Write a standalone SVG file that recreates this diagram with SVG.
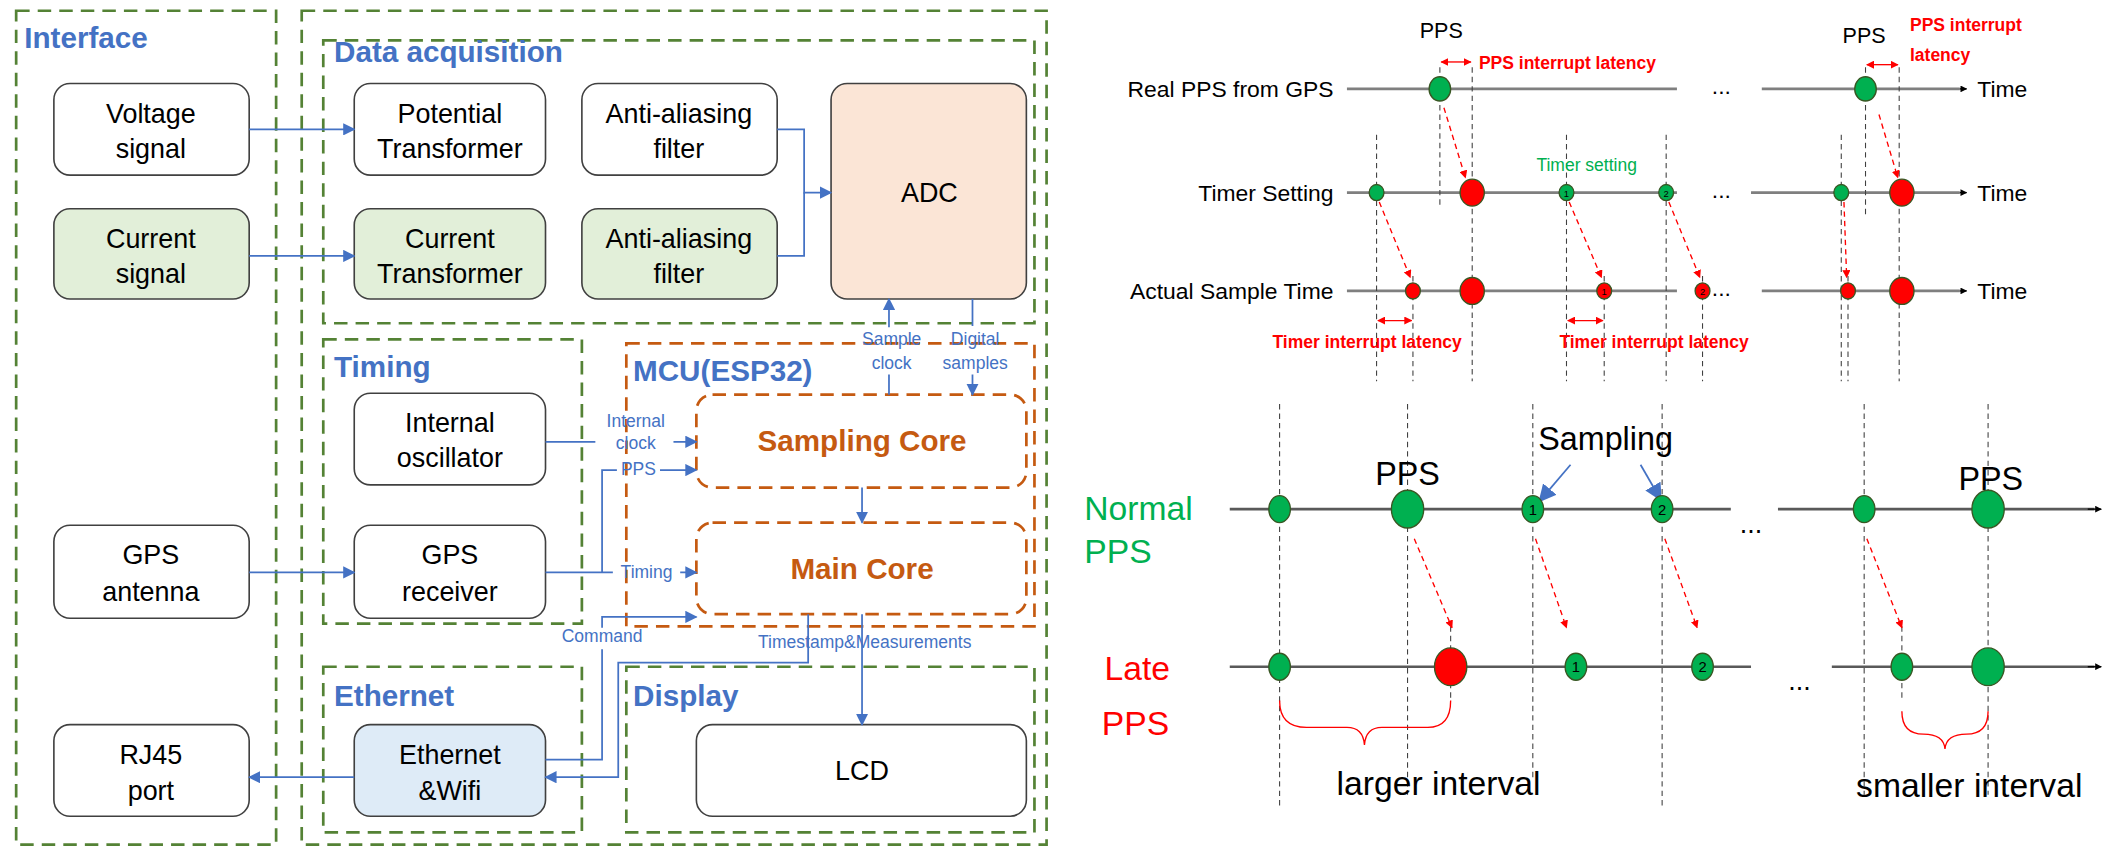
<svg xmlns="http://www.w3.org/2000/svg" width="2112" height="856" viewBox="0 0 2112 856">
<defs>
<style>
.grp{fill:none;stroke:#548235;stroke-width:2;stroke-dasharray:10,6}
.mcu{fill:none;stroke:#c55a11;stroke-width:2;stroke-dasharray:10,6}
.nd{fill:#fff;stroke:#404040;stroke-width:1.2}
.t{font-family:"Liberation Sans",Arial,sans-serif;font-size:20px;fill:#000;text-anchor:middle}
.ttl{font-family:"Liberation Sans",Arial,sans-serif;font-size:22px;font-weight:bold;fill:#4472c4}
.core{font-family:"Liberation Sans",Arial,sans-serif;font-size:22px;font-weight:bold;fill:#c55a11;text-anchor:middle}
.lb{font-family:"Liberation Sans",Arial,sans-serif;font-size:13px;fill:#4472c4;text-anchor:middle}
.c{fill:none;stroke:#4472c4;stroke-width:1.3}
.r{font-family:"Liberation Sans",Arial,sans-serif;font-size:17px;fill:#000}
.red{font-family:"Liberation Sans",Arial,sans-serif;font-size:13px;font-weight:bold;fill:#ff0000}
.ax{stroke:#7f7f7f;stroke-width:2;fill:none}
.ax2{stroke:#595959;stroke-width:2;fill:none}
.vd{stroke:#404040;stroke-width:0.8;stroke-dasharray:4,3;fill:none}
.ra{stroke:#ff0000;stroke-width:1;stroke-dasharray:4,3;fill:none}
.g{fill:#00b050;stroke:#385723;stroke-width:1}
.rd{fill:#ff0000;stroke:#385723;stroke-width:1}
.n{font-family:"Liberation Sans",Arial,sans-serif;font-size:9px;text-anchor:middle;fill:#000}
</style>
<marker id="ab" viewBox="0 0 10 10" refX="9" refY="5" markerWidth="7" markerHeight="7" orient="auto-start-reverse"><path d="M0,0L10,5L0,10z" fill="#4472c4"/></marker>
<marker id="ab2" viewBox="0 0 10 10" refX="9" refY="5" markerWidth="10" markerHeight="10" orient="auto"><path d="M0,0L10,5L0,10z" fill="#4472c4"/></marker>
<marker id="ar" viewBox="0 0 10 10" refX="9" refY="5" markerWidth="6" markerHeight="6" orient="auto-start-reverse"><path d="M0,0L10,5L0,10z" fill="#ff0000"/></marker>
<marker id="ak" viewBox="0 0 10 10" refX="9" refY="5" markerWidth="5" markerHeight="5" orient="auto"><path d="M0,0L10,5L0,10z" fill="#000"/></marker>
</defs>
<g transform="scale(1.34694)">
<g id="groups">
<rect class="grp" x="12" y="8" width="193" height="619"/>
<text class="ttl" x="18" y="36">Interface</text>
<rect class="grp" x="224" y="8" width="553" height="619"/>
<rect class="grp" x="240" y="30" width="528" height="210"/>
<text class="ttl" x="248" y="46">Data acquisition</text>
<rect class="grp" x="240" y="252" width="192" height="211"/>
<text class="ttl" x="248" y="280">Timing</text>
<rect class="mcu" x="465" y="255" width="303" height="210"/>
<text class="ttl" x="470" y="283">MCU(ESP32)</text>
<rect class="grp" x="240" y="495" width="192" height="123"/>
<text class="ttl" x="248" y="524">Ethernet</text>
<rect class="grp" x="465" y="495" width="303" height="123"/>
<text class="ttl" x="470" y="524">Display</text>
</g>
<g id="voltage"><rect class="nd" x="40" y="62" width="145" height="68" rx="12"/><text class="t" x="112" y="91">Voltage</text><text class="t" x="112" y="117">signal</text></g>
<g id="current"><rect class="nd" x="40" y="155" width="145" height="67" rx="12" style="fill:#e2efd9"/><text class="t" x="112" y="184">Current</text><text class="t" x="112" y="210">signal</text></g>
<g id="pt"><rect class="nd" x="263" y="62" width="142" height="68" rx="12"/><text class="t" x="334" y="91">Potential</text><text class="t" x="334" y="117">Transformer</text></g>
<g id="aaf1"><rect class="nd" x="432" y="62" width="145" height="68" rx="12"/><text class="t" x="504" y="91">Anti-aliasing</text><text class="t" x="504" y="117">filter</text></g>
<g id="ct"><rect class="nd" x="263" y="155" width="142" height="67" rx="12" style="fill:#e2efd9"/><text class="t" x="334" y="184">Current</text><text class="t" x="334" y="210">Transformer</text></g>
<g id="aaf2"><rect class="nd" x="432" y="155" width="145" height="67" rx="12" style="fill:#e2efd9"/><text class="t" x="504" y="184">Anti-aliasing</text><text class="t" x="504" y="210">filter</text></g>
<g id="adc"><rect class="nd" x="617" y="62" width="145" height="160" rx="12" style="fill:#fbe5d6"/><text class="t" x="690" y="150">ADC</text></g>
<g id="osc"><rect class="nd" x="263" y="292" width="142" height="68" rx="12"/><text class="t" x="334" y="321">Internal</text><text class="t" x="334" y="347">oscillator</text></g>
<g id="gpsr"><rect class="nd" x="263" y="390" width="142" height="69" rx="12"/><text class="t" x="334" y="419">GPS</text><text class="t" x="334" y="446">receiver</text></g>
<g id="gpsa"><rect class="nd" x="40" y="390" width="145" height="69" rx="12"/><text class="t" x="112" y="419">GPS</text><text class="t" x="112" y="446">antenna</text></g>
<g id="rj45"><rect class="nd" x="40" y="538" width="145" height="68" rx="12"/><text class="t" x="112" y="567">RJ45</text><text class="t" x="112" y="594">port</text></g>
<g id="eth"><rect class="nd" x="263" y="538" width="142" height="68" rx="12" style="fill:#deebf7"/><text class="t" x="334" y="567">Ethernet</text><text class="t" x="334" y="594">&amp;Wifi</text></g>
<g id="lcd"><rect class="nd" x="517" y="538" width="245" height="68" rx="12"/><text class="t" x="640" y="579">LCD</text></g>
<g id="sampcore"><rect class="mcu" x="517" y="293" width="245" height="69" rx="12"/><text class="core" x="640" y="335">Sampling Core</text></g>
<g id="maincore"><rect class="mcu" x="517" y="388" width="245" height="68" rx="12"/><text class="core" x="640" y="430">Main Core</text></g>
<g id="connectors">
<path class="c" d="M185,96H263" marker-end="url(#ab)"/>
<path class="c" d="M185,190H263" marker-end="url(#ab)"/>
<path class="c" d="M577,96H597V143H617" marker-end="url(#ab)"/>
<path class="c" d="M577,190H597V143"/>
<path class="c" d="M660,243V222" marker-end="url(#ab)"/>
<path class="c" d="M660,293V278"/>
<path class="c" d="M722,222V242M722,278V293" marker-end="url(#ab)"/>
<text class="lb" x="662" y="256">Sample</text><text class="lb" x="662" y="274">clock</text>
<text class="lb" x="724" y="256">Digital</text><text class="lb" x="724" y="274">samples</text>
<path class="c" d="M405,328H442M500,328H517" marker-end="url(#ab)"/>
<text class="lb" x="472" y="317">Internal</text><text class="lb" x="472" y="333">clock</text>
<path class="c" d="M447,425V349H458M490,349H517" marker-end="url(#ab)"/>
<text class="lb" x="474" y="353">PPS</text>
<path class="c" d="M405,425H455M505,425H517" marker-end="url(#ab)"/>
<text class="lb" x="480" y="429">Timing</text>
<path class="c" d="M185,425H263" marker-end="url(#ab)"/>
<path class="c" d="M640,362V388" marker-end="url(#ab)"/>
<path class="c" d="M405,564H447V482M447,466V458H517" marker-end="url(#ab)"/>
<text class="lb" x="447" y="477">Command</text>
<path class="c" d="M600,456V492H459V577H405" marker-end="url(#ab)"/>
<path class="c" d="M640,456V538" marker-end="url(#ab)"/>
<text class="lb" x="642" y="481">Timestamp&amp;Measurements</text>
<path class="c" d="M263,577H185" marker-end="url(#ab)"/>
</g>
<g id="timeline-top">
<text class="r" x="990" y="72" text-anchor="end">Real PPS from GPS</text>
<text class="r" x="990" y="149" text-anchor="end">Timer Setting</text>
<text class="r" x="990" y="222" text-anchor="end">Actual Sample Time</text>
<path class="ax" d="M1000,66H1245M1308,66H1455"/><path d="M1455,66H1460" stroke="#000" marker-end="url(#ak)"/>
<path class="ax" d="M1000,143H1245M1300,143H1455"/><path d="M1455,143H1460" stroke="#000" marker-end="url(#ak)"/>
<path class="ax" d="M1000,216H1245M1308,216H1455"/><path d="M1455,216H1460" stroke="#000" marker-end="url(#ak)"/>
<text class="r" x="1278" y="70" text-anchor="middle">...</text>
<text class="r" x="1278" y="147" text-anchor="middle">...</text>
<text class="r" x="1278" y="220" text-anchor="middle">...</text>
<text class="r" x="1468" y="72">Time</text><text class="r" x="1468" y="149">Time</text><text class="r" x="1468" y="222">Time</text>
<path class="vd" d="M1069,50V152M1093,50V283M1385,50V160M1410,50V283M1022,100V283M1163,100V283M1237,100V283M1367,100V283M1049,205V283M1191,205V283M1264,205V283M1372,205V283"/>
<text class="r" x="1070" y="28" text-anchor="middle" style="font-size:16px">PPS</text>
<text class="r" x="1384" y="32" text-anchor="middle" style="font-size:16px">PPS</text>
<path d="M1070,46H1092" stroke="#f00" marker-start="url(#ar)" marker-end="url(#ar)"/>
<path d="M1386,48H1409" stroke="#f00" marker-start="url(#ar)" marker-end="url(#ar)"/>
<path d="M1023,238H1048" stroke="#f00" marker-start="url(#ar)" marker-end="url(#ar)"/>
<path d="M1164,238H1190" stroke="#f00" marker-start="url(#ar)" marker-end="url(#ar)"/>
<text class="red" x="1098" y="51">PPS interrupt latency</text>
<text class="red" x="1418" y="23">PPS interrupt</text><text class="red" x="1418" y="45">latency</text>
<text class="red" x="1015" y="258" text-anchor="middle">Timer interrupt latency</text>
<text class="red" x="1228" y="258" text-anchor="middle">Timer interrupt latency</text>
<text x="1178" y="127" text-anchor="middle" style="font-family:'Liberation Sans',Arial,sans-serif;font-size:13px;fill:#00b050">Timer setting</text>
<path class="ra" d="M1072,80L1088,132" marker-end="url(#ar)"/>
<path class="ra" d="M1395,85L1409,132" marker-end="url(#ar)"/>
<path class="ra" d="M1024,150L1047,206" marker-end="url(#ar)"/>
<path class="ra" d="M1165,150L1189,206" marker-end="url(#ar)"/>
<path class="ra" d="M1239,150L1262,206" marker-end="url(#ar)"/>
<path class="ra" d="M1369,150L1371,206" marker-end="url(#ar)"/>
<ellipse class="g" cx="1069" cy="66" rx="8" ry="9"/><ellipse class="g" cx="1385" cy="66" rx="8" ry="9"/>
<ellipse class="g" cx="1022" cy="143" rx="5.5" ry="6"/><ellipse class="rd" cx="1093" cy="143" rx="9" ry="10"/>
<ellipse class="g" cx="1163" cy="143" rx="5.5" ry="6"/><text class="n" x="1163" y="146" style="font-size:7px">1</text>
<ellipse class="g" cx="1237" cy="143" rx="5.5" ry="6"/><text class="n" x="1237" y="146" style="font-size:7px">2</text>
<ellipse class="g" cx="1367" cy="143" rx="5.5" ry="6"/><ellipse class="rd" cx="1412" cy="143" rx="9" ry="10"/>
<ellipse class="rd" cx="1049" cy="216" rx="5.5" ry="6"/><ellipse class="rd" cx="1093" cy="216" rx="9" ry="10"/>
<ellipse class="rd" cx="1191" cy="216" rx="5.5" ry="6"/><text class="n" x="1191" y="219" style="font-size:7px">1</text>
<ellipse class="rd" cx="1264" cy="216" rx="5.5" ry="6"/><text class="n" x="1264" y="219" style="font-size:7px">2</text>
<ellipse class="rd" cx="1372" cy="216" rx="5.5" ry="6"/><ellipse class="rd" cx="1412" cy="216" rx="9" ry="10"/>
</g>
<g id="timeline-bottom">
<text x="805" y="386" style="font-family:'Liberation Sans',Arial,sans-serif;font-size:25px;fill:#00b050">Normal</text>
<text x="805" y="418" style="font-family:'Liberation Sans',Arial,sans-serif;font-size:25px;fill:#00b050">PPS</text>
<text x="820" y="505" style="font-family:'Liberation Sans',Arial,sans-serif;font-size:25px;fill:#ff0000">Late</text>
<text x="818" y="546" style="font-family:'Liberation Sans',Arial,sans-serif;font-size:25px;fill:#ff0000">PPS</text>
<path class="vd" d="M950,300V600M1045,300V590M1138,300V580M1234,300V600M1384,300V590M1476,300V590M1077,465V520M1412,465V520"/>
<path class="ax2" d="M913,378H1285M1320,378H1555"/><path d="M1550,378H1560" stroke="#000" marker-end="url(#ak)"/>
<path class="ax2" d="M913,495H1300M1360,495H1555"/><path d="M1550,495H1560" stroke="#000" marker-end="url(#ak)"/>
<text class="r" x="1300" y="396" text-anchor="middle" style="font-size:20px">...</text>
<text class="r" x="1336" y="512" text-anchor="middle" style="font-size:20px">...</text>
<text x="1045" y="360" text-anchor="middle" style="font-family:'Liberation Sans',Arial,sans-serif;font-size:24px">PPS</text>
<text x="1478" y="364" text-anchor="middle" style="font-family:'Liberation Sans',Arial,sans-serif;font-size:24px">PPS</text>
<text x="1192" y="334" text-anchor="middle" style="font-family:'Liberation Sans',Arial,sans-serif;font-size:24px">Sampling</text>
<path class="c" d="M1166,345L1143,372" marker-end="url(#ab2)"/>
<path class="c" d="M1218,345L1233,371" marker-end="url(#ab2)"/>
<path class="ra" d="M1050,400L1078,466" marker-end="url(#ar)"/>
<path class="ra" d="M1140,400L1163,466" marker-end="url(#ar)"/>
<path class="ra" d="M1236,400L1260,466" marker-end="url(#ar)"/>
<path class="ra" d="M1386,400L1412,466" marker-end="url(#ar)"/>
<ellipse class="g" cx="950" cy="378" rx="8" ry="10"/><ellipse class="g" cx="1045" cy="378" rx="12" ry="14"/>
<ellipse class="g" cx="1138" cy="378" rx="8" ry="10"/><text class="n" x="1138" y="382" style="font-size:11px">1</text>
<ellipse class="g" cx="1234" cy="378" rx="8" ry="10"/><text class="n" x="1234" y="382" style="font-size:11px">2</text>
<ellipse class="g" cx="1384" cy="378" rx="8" ry="10"/><ellipse class="g" cx="1476" cy="378" rx="12" ry="14"/>
<ellipse class="g" cx="950" cy="495" rx="8" ry="10"/><ellipse class="rd" cx="1077" cy="495" rx="12" ry="14"/>
<ellipse class="g" cx="1170" cy="495" rx="8" ry="10"/><text class="n" x="1170" y="499" style="font-size:11px">1</text>
<ellipse class="g" cx="1264" cy="495" rx="8" ry="10"/><text class="n" x="1264" y="499" style="font-size:11px">2</text>
<ellipse class="g" cx="1412" cy="495" rx="8" ry="10"/><ellipse class="g" cx="1476" cy="495" rx="12" ry="14"/>
<path d="M950,520Q950,540 970,540H1000Q1012,540 1013,553Q1014,540 1026,540H1060Q1077,540 1077,520" fill="none" stroke="#ff0000" stroke-width="1"/>
<path d="M1412,528Q1412,545 1428,545Q1443,545 1444,556Q1445,545 1460,545Q1476,545 1476,528" fill="none" stroke="#ff0000" stroke-width="1"/>
<text x="1068" y="590" text-anchor="middle" style="font-family:'Liberation Sans',Arial,sans-serif;font-size:25px">larger interval</text>
<text x="1462" y="592" text-anchor="middle" style="font-family:'Liberation Sans',Arial,sans-serif;font-size:25px">smaller interval</text>
</g>
</g>
</svg>
